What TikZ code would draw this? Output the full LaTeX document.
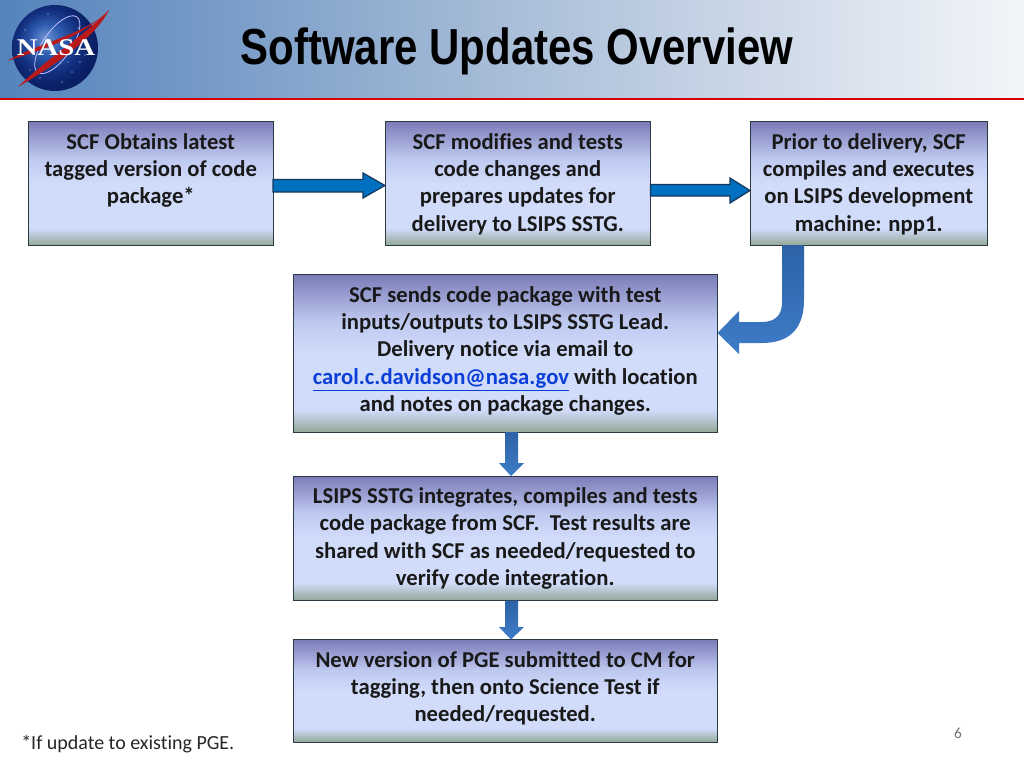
\documentclass[tikz,border=0pt]{standalone}
\usepackage{fontspec}
\setmainfont[Ligatures=NoCommon]{Carlito}
\newfontfamily\titlefont{Liberation Sans}
\newfontfamily\logofont{Liberation Serif}
\usetikzlibrary{calc,arrows.meta}
\definecolor{boxtop}{HTML}{7C7CB8}
\definecolor{boxmid}{HTML}{BEC9F0}
\definecolor{boxlow}{HTML}{D1DCFB}
\definecolor{boxfoot}{HTML}{92A795}
\definecolor{edgecol}{HTML}{2B3A42}
\definecolor{arrowblue}{HTML}{0070C0}
\definecolor{arrowedge}{HTML}{17375E}
\definecolor{linkblue}{HTML}{0B3FD8}
\definecolor{hA}{HTML}{5483BC}
\definecolor{hB}{HTML}{A9BED8}
\definecolor{hC}{HTML}{F3F5F9}
\definecolor{globeA}{HTML}{6F93D2}
\definecolor{globeB}{HTML}{2F5CB0}
\definecolor{globeC}{HTML}{12307F}
\definecolor{globeD}{HTML}{0B1F66}
\definecolor{bentTop}{HTML}{2D62A6}
\definecolor{bentLow}{HTML}{3E7CC8}
\pgfdeclareverticalshading{boxgrad}{100bp}{
  color(0bp)=(boxfoot); color(25bp)=(boxfoot); color(32bp)=(boxlow);
  color(50bp)=(boxlow); color(60bp)=(boxmid); color(75bp)=(boxtop); color(100bp)=(boxtop)}
\pgfdeclarehorizontalshading{headgradb}{100bp}{
  color(0bp)=(hA); color(25bp)=(hA); color(50bp)=(hB); color(75bp)=(hC); color(100bp)=(hC)}
\pgfdeclareradialshading{globe}{\pgfpoint{-6bp}{6bp}}{
  color(0bp)=(globeA); color(9bp)=(globeB); color(18bp)=(globeC); color(25bp)=(globeD); color(50bp)=(globeD)}
\newcommand{\flowcell}[7][8.3pt]{%
  \node[flowbox,minimum width={(#4-#2)*0.75pt},minimum height={(#5-#3)*0.75pt}] (#6) at ({(#2+#4)/2},{(#3+#5)/2})
    {\parbox[c][\dimexpr #5pt*3/4-#3pt*3/4-1pt\relax][t]{\dimexpr #4pt*3/4-#2pt*3/4-6pt\relax}{\centering\vspace*{#1}#7\par}};}
\tikzset{
  flowbox/.style={draw=edgecol,line width=0.75pt,shading=boxgrad,inner sep=0pt,outer sep=0pt,
    font=\fontsize{17pt}{20.5pt}\selectfont\bfseries,text=black!90},
  straightarrow/.style={draw=arrowedge,line width=0.9pt,fill=arrowblue,line join=miter},
  softarrow/.style={top color=bentTop,bottom color=bentLow,draw=none},
}
\begin{document}
\begin{tikzpicture}[x=0.75pt,y=-0.75pt]
\useasboundingbox (0,0) rectangle (1024,768);
\shade[shading=headgradb] (0,0) rectangle (1024,98);
\fill[red!85!black] (0,98) rectangle (1024,100);
% logo
\shade[shading=globe] (55,48) circle (43);
\foreach \sx/\sy in {30/70,40/78,72/72,80/62,85/55,62/82,25/30,78/28,48/14,20/52,68/62}
  \fill[white!85!blue] (\sx,\sy) circle (0.7);
\draw[white!75!blue,line width=0.6pt,rotate around={-35:(55,48)}] (55,44) ellipse (14 and 34);
\fill[red!70!black!90!white] (109,10) .. controls (90,30) and (60,45) .. (7,61)
   .. controls (40,42) and (85,35) .. cycle;
\fill[red!70!black!90!white] (109,10) .. controls (95,38) and (55,65) .. (18,87)
   .. controls (45,60) and (85,35) .. cycle;
\node[inner sep=0pt,text=white] (logotext) at (56,48)
   {\logofont\bfseries\fontsize{18pt}{18pt}\selectfont\scalebox{1.2}[1]{NASA}};
% title
\node[inner sep=0pt] (title) at (517,51)
   {\titlefont\bfseries\fontsize{38pt}{38pt}\selectfont\scalebox{0.828}[1]{Software Updates Overview}};
% boxes
\flowcell{28.5}{121.5}{273}{245.5}{a}{SCF Obtains latest\\tagged version of code\\package*}
\flowcell{385}{121.5}{650.5}{245.5}{b}{SCF modifies and tests\\code changes and\\prepares updates for\\delivery to LSIPS SSTG.}
\flowcell{750}{121.5}{987.5}{245.5}{c}{Prior to delivery, SCF\\compiles and executes\\on LSIPS development\\machine: npp1.}
\flowcell{293}{274.5}{717.5}{432}{d}{SCF sends code package with test\\inputs/outputs to LSIPS SSTG Lead.\\Delivery notice via email to\\{\color{linkblue}\underline{carol.c.davidson@nasa.gov}} with location\\and notes on package changes.}
\flowcell{293}{476}{717.5}{600.5}{e}{LSIPS SSTG integrates, compiles and tests\\code package from SCF.\ \ Test results are\\shared with SCF as needed/requested to\\verify code integration.}
\flowcell{293}{639.5}{717.5}{742.5}{f}{New version of PGE submitted to CM for\\tagging, then onto Science Test if\\needed/requested.}
% straight arrows
\draw[straightarrow] (a.east |- 0,179.5) -- (363,179.5) -- (363,173) -- (b.west |- 0,185.5) -- (363,198) -- (363,192) -- (a.east |- 0,192) -- cycle;
\draw[straightarrow] (b.east |- 0,184.5) -- (730,184.5) -- (730,178) -- (c.west |- 0,190.5) -- (730,203) -- (730,196) -- (b.east |- 0,196) -- cycle;
% bent arrow
\shade[softarrow] (782,245) -- (804,245) -- (804,300)
  .. controls (804,328) and (790,343) .. (762,343) -- (739,343) -- (739,354)
  -- (d.east |- 0,333) -- (739,311) -- (739,322) -- (762,322)
  .. controls (775,322) and (782,315) .. (782,303) -- cycle;
% down arrows
\shade[softarrow] (d.south) -- ($(d.south)+(13,0)$) -- (518,463) -- (524,463)
  -- (e.north -| 511,0) -- (499,463) -- (505,463) -- cycle;
\shade[softarrow] (e.south) -- ($(e.south)+(13,0)$) -- (518,627) -- (524,627)
  -- (f.north -| 511,0) -- (499,627) -- (505,627) -- cycle;
% footnote and page number
\node[inner sep=0pt,anchor=west,font=\fontsize{15pt}{17pt}\selectfont,text=black!85] (note) at (21,744) {*If update to existing PGE.};
\node[inner sep=0pt,font=\fontsize{11.5pt}{14pt}\selectfont,text=black!55] (page) at (958,733) {6};
\end{tikzpicture}
\end{document}
